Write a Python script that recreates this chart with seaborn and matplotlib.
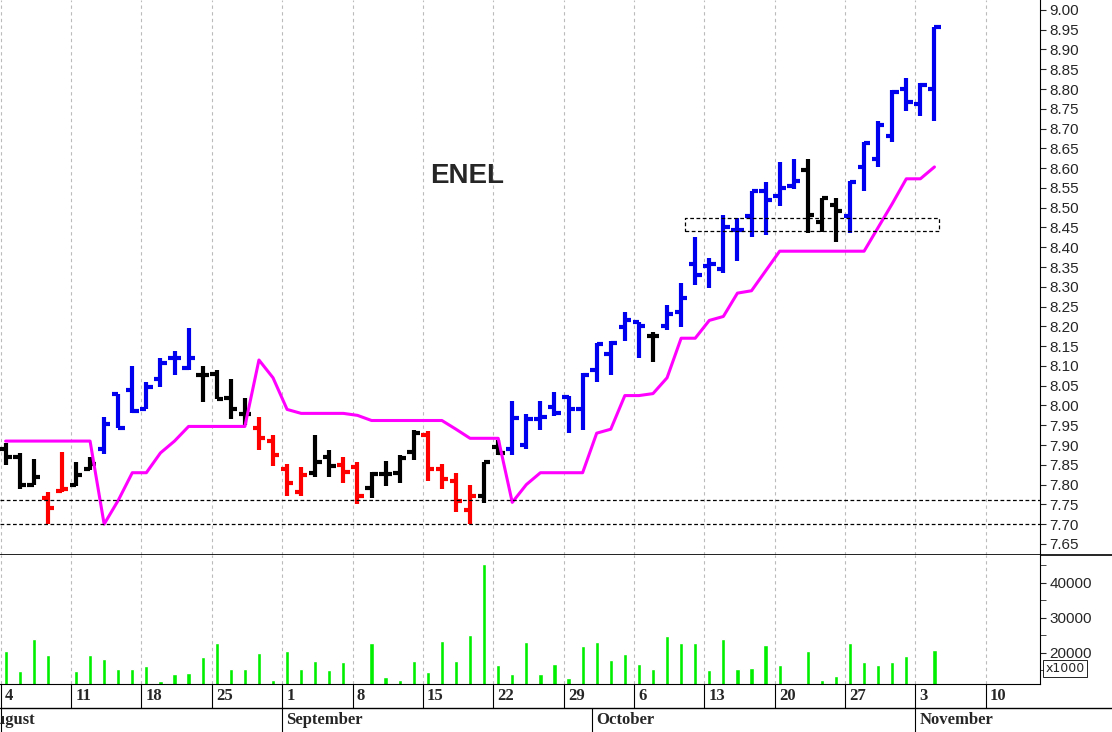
import numpy as np
import pandas as pd
import matplotlib
matplotlib.use("Agg")
import matplotlib.pyplot as plt
import seaborn as sns

sns.set_style("white")

dates = pd.bdate_range("2003-08-04", "2003-11-04")
opens = [7.89,7.87,7.80,7.766,7.785,7.80,7.84,7.89,8.03,8.038,7.99,8.068,8.12,8.094,8.077,8.08,8.02,7.978,7.943,7.909,
         7.84,7.78,7.83,7.87,7.85,7.844,7.792,7.827,7.83,7.883,7.926,7.84,7.81,7.736,7.77,7.896,7.89,7.90,7.965,7.995,
         8.021,7.991,8.09,8.13,8.198,8.21,8.176,8.202,8.236,8.357,8.353,8.344,8.443,8.478,8.542,8.53,8.555,8.594,8.465,8.508,
         8.478,8.603,8.624,8.68,8.801,8.762,8.801]
highs = [7.905,7.88,7.865,7.78,7.883,7.857,7.87,7.97,8.03,8.10,8.06,8.12,8.137,8.195,8.10,8.09,8.068,8.02,7.97,7.926,
         7.853,7.844,7.926,7.887,7.87,7.857,7.831,7.86,7.874,7.939,7.935,7.853,7.83,7.80,7.857,7.913,8.012,7.978,8.012,8.034,
         8.025,8.081,8.159,8.163,8.236,8.21,8.185,8.254,8.31,8.426,8.374,8.482,8.473,8.542,8.564,8.616,8.624,8.623,8.525,8.525,
         8.568,8.667,8.719,8.797,8.827,8.814,8.956]
lows = [7.85,7.79,7.80,7.70,7.78,7.797,7.838,7.878,7.943,7.98,7.99,8.046,8.077,8.09,8.01,8.016,7.965,7.95,7.887,7.848,
        7.77,7.77,7.818,7.818,7.805,7.75,7.766,7.797,7.805,7.861,7.81,7.79,7.73,7.70,7.753,7.874,7.874,7.891,7.939,7.974,
        7.93,7.939,8.06,8.077,8.163,8.12,8.11,8.19,8.198,8.305,8.297,8.336,8.366,8.426,8.43,8.504,8.547,8.435,8.439,8.413,
        8.435,8.542,8.603,8.667,8.745,8.732,8.719]
closes = [7.87,7.80,7.82,7.74,7.79,7.823,7.852,7.952,7.943,7.986,8.047,8.107,8.12,8.12,8.077,8.016,7.99,7.978,7.917,7.874,
          7.805,7.823,7.857,7.848,7.831,7.77,7.827,7.827,7.866,7.93,7.84,7.814,7.758,7.77,7.857,7.879,7.969,7.965,7.97,7.982,
          7.991,8.077,8.155,8.159,8.215,8.202,8.176,8.232,8.271,8.331,8.357,8.452,8.443,8.542,8.52,8.551,8.568,8.482,8.525,8.491,
          8.564,8.663,8.71,8.792,8.767,8.81,8.956]
bar_colors = list("kkkrrkkbbbbbbbkkkkrrrrkkrrkkkkrrrrkkb" + "bbbbbbbbbkbbbbbbbbbbkkkbbbbbbb")
stop_line = [7.91,7.91,7.91,7.91,7.91,7.91,7.91,7.70,7.76,7.83,7.83,7.88,7.91,7.947,7.947,7.947,7.947,7.947,8.115,8.07,
             7.99,7.98,7.98,7.98,7.98,7.975,7.962,7.962,7.962,7.962,7.962,7.962,7.94,7.917,7.917,7.917,7.755,7.80,7.83,7.83,
             7.83,7.83,7.93,7.94,8.025,8.025,8.03,8.07,8.17,8.17,8.215,8.225,8.284,8.29,8.34,8.39,8.39,8.39,8.39,8.39,
             8.39,8.39,8.45,8.51,8.573,8.573,8.603]
volume = [20480,14800,23940,19330,11540,14800,19330,18360,15480,15480,16150,12020,14000,14420,18940,22790,15480,15290,20100,12310,
          20580,15480,17600,15000,17310,11540,22980,13170,12400,17600,14710,23360,17600,25100,45290,16440,14040,23270,14040,16920,
          12790,22020,23080,18080,19810,16920,15290,24810,22790,22790,15190,23940,15290,15580,22210,16440,11540,20480,12400,13560,
          22880,17310,16440,17310,19040,11350,20960]
price_ticks = [7.65,7.70,7.75,7.80,7.85,7.90,7.95,8.00,8.05,8.10,8.15,8.20,8.25,8.30,8.35,8.40,8.45,8.50,8.55,8.60,8.65,8.70,8.75,8.80,8.85,8.90,8.95,9.00]
support_levels = [7.76, 7.70]
box_low, box_high = 8.44, 8.475
month_names = ["August", "September", "October", "November"]

n = len(dates)
idx = np.arange(n)
cmap = {"k": "black", "r": "#ff0000", "b": "#0000ee"}
cols = [cmap[c] for c in bar_colors]

all_days = pd.bdate_range("2003-08-04", "2003-11-14")
mondays = [(i, d) for i, d in enumerate(all_days) if d.weekday() == 0]
grid_x = [i - 0.35 for i, d in mondays]
xmin, xmax = -0.4, 73.5

fig = plt.figure(figsize=(11.12, 7.32), dpi=100)
axp = fig.add_axes([0, 1 - 555/732, 1040/1112, 555/732])
axv = fig.add_axes([0, 1 - 684/732, 1040/1112, 129/732])
axd = fig.add_axes([0, 0, 1040/1112, 48/732])

for a in (axp, axv):
    a.set_xlim(xmin, xmax)
    for gx in grid_x:
        a.axvline(gx, color="#bbbbbb", ls=(0, (3, 3)), lw=0.8, zorder=0)
    a.set_xticks([])
    for s in ("left", "top"):
        a.spines[s].set_visible(False)
    a.spines["right"].set_color("black")
    a.spines["bottom"].set_color("black")
    a.yaxis.tick_right()
    a.tick_params(axis="y", direction="out", length=4, labelsize=11, pad=3)

axp.vlines(idx, lows, highs, colors=cols, lw=3)
axp.hlines(opens, idx - 0.45, idx, colors=cols, lw=3)
axp.hlines(closes, idx, idx + 0.45, colors=cols, lw=3)
sns.lineplot(x=idx, y=stop_line, ax=axp, color="#ff00ff", lw=2.2)
for lv in support_levels:
    axp.axhline(lv, color="black", ls=(0, (3, 2)), lw=0.9)
axp.plot([48.3, 66.3, 66.3, 48.3, 48.3], [box_low, box_low, box_high, box_high, box_low],
         color="black", ls=(0, (3, 2)), lw=0.9)
axp.set_ylim(7.622, 9.025)
axp.set_yticks(price_ticks)
axp.set_yticklabels([f"{t:.2f}" for t in price_ticks], fontfamily="Liberation Sans")
axp.text(32.8, 8.58, "ENEL", fontsize=20, fontweight="bold", ha="center", va="center",
         fontfamily="Liberation Sans")
axp.axhline(7.622, color="black", lw=1.2, xmax=1.07, clip_on=False)

axv.bar(idx, volume, width=0.3, color="#00ee00", bottom=0)
axv.set_ylim(11140, 48000)
axv.set_yticks([20000, 30000, 40000])
axv.set_yticks([15000, 25000, 35000, 45000], minor=True)
axv.tick_params(axis="y", which="minor", direction="out", length=4)
axv.set_yticklabels(["20000", "30000", "40000"], fontfamily="Liberation Sans")
axv.text(1.005, 0.12, "x1000", transform=axv.transAxes, fontsize=9, va="center",
         bbox=dict(facecolor="white", edgecolor="black", lw=0.6, pad=1.5))

axd.set_xlim(xmin, xmax)
axd.set_ylim(0, 1)
axd.axis("off")
axd.axhline(0.5, color="black", lw=1, xmax=1.07, clip_on=False)
for (i, d), gx in zip(mondays, grid_x):
    axd.vlines(gx, 0.5, 1, color="black", lw=0.8)
    axd.text(gx + 0.3, 0.75, str(d.day), fontsize=12, fontweight="bold",
             fontfamily="Liberation Serif", va="center", ha="left")
month_starts = []
for m in [8, 9, 10, 11]:
    first = [i for i, d in enumerate(all_days) if d.month == m][0]
    month_starts.append(first - 0.35)
for name, ms in zip(month_names, month_starts):
    axd.vlines(ms, 0, 0.5, color="black", lw=0.8)
    axd.text(ms + 0.3 if ms > 0 else -1.5, 0.24, name, fontsize=12, fontweight="bold",
             fontfamily="Liberation Serif", va="center", ha="left", clip_on=False)

fig.savefig("out.png", dpi=100)
